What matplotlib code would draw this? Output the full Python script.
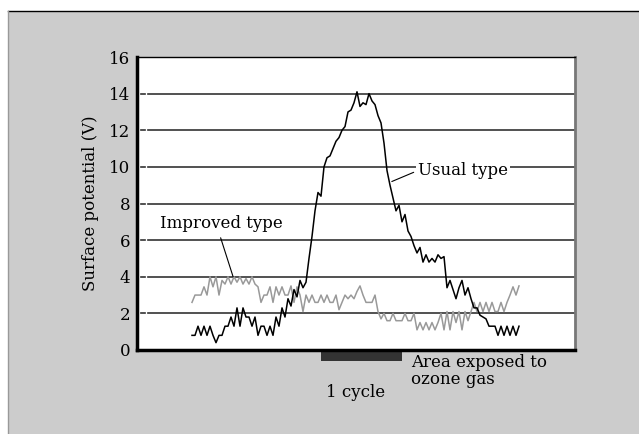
import numpy as np
import matplotlib.pyplot as plt
from matplotlib.patches import Rectangle
from matplotlib.lines import Line2D
import matplotlib.transforms as mtransforms

plt.rcParams['font.family'] = ['DejaVu Serif']

# surface potential (V), one reading per sample
usual = [0.8, 0.8, 1.3, 0.8, 1.3, 0.8, 1.3, 0.8, 0.4, 0.8,
         0.8, 1.3, 1.3, 1.8, 1.3, 2.3, 1.3, 2.3, 1.8, 1.8,
         1.3, 1.8, 0.8, 1.3, 1.3, 0.8, 1.3, 0.8, 1.8, 1.3,
         2.3, 1.8, 2.8, 2.4, 3.3, 2.9, 3.8, 3.4, 3.7, 5.0,
         6.2, 7.6, 8.6, 8.4, 10.0, 10.5, 10.6, 11.0, 11.4, 11.6,
         12.0, 12.2, 13.0, 13.1, 13.5, 14.1, 13.3, 13.5, 13.4, 14.0,
         13.6, 13.4, 12.8, 12.4, 11.3, 9.8, 9.0, 8.3, 7.6, 7.9,
         7.0, 7.4, 6.5, 6.2, 5.7, 5.3, 5.6, 4.8, 5.2, 4.8,
         5.0, 4.8, 5.2, 5.0, 5.1, 3.4, 3.8, 3.3, 2.8, 3.4,
         3.8, 3.0, 3.4, 2.8, 2.3, 2.3, 1.9, 1.8, 1.7, 1.3,
         1.3, 1.3, 0.8, 1.3, 0.8, 1.3, 0.8, 1.3, 0.8, 1.3]

improved = [2.6, 3.0, 3.0, 3.0, 3.45, 3.0, 4.0, 3.45, 4.0, 3.0,
            3.8, 3.6, 4.0, 3.6, 4.0, 3.7, 4.0, 3.6, 3.9, 3.6,
            4.0, 3.6, 3.45, 2.6, 3.0, 3.0, 3.45, 2.6, 3.45, 3.0,
            3.45, 3.0, 3.0, 3.5, 2.6, 3.45, 3.0, 2.1, 3.0, 2.6,
            3.0, 2.6, 2.6, 3.0, 2.6, 3.0, 2.6, 2.6, 3.0, 2.2,
            2.6, 3.0, 2.8, 3.0, 2.8, 3.2, 3.5, 3.0, 2.6, 2.6,
            2.6, 3.0, 2.1, 1.7, 2.0, 1.6, 1.6, 2.0, 1.6, 1.6,
            1.6, 2.0, 1.6, 1.6, 2.0, 1.1, 1.5, 1.1, 1.5, 1.1,
            1.5, 1.1, 1.5, 2.0, 1.1, 2.1, 1.1, 2.1, 1.5, 2.1,
            1.1, 2.1, 1.6, 2.1, 2.6, 2.1, 2.6, 2.1, 2.6, 2.1,
            2.6, 2.1, 2.1, 2.6, 2.1, 2.6, 3.0, 3.45, 3.0, 3.5]

yticks = [0, 2, 4, 6, 8, 10, 12, 14, 16]
cycle_start, cycle_end = 43, 70   # ozone exposure window (samples)

t = np.arange(len(usual))

fig = plt.figure(figsize=(6.39, 4.34), dpi=100)
fig.patch.set_facecolor('white')

# grey panel behind the chart
fig.patches.append(Rectangle((8 / 639, 0), 1 - 8 / 639, 423 / 434,
                             transform=fig.transFigure, facecolor='#cccccc',
                             edgecolor='none', zorder=-5))
fig.lines.append(Line2D([8 / 639, 1], [423 / 434, 423 / 434],
                        transform=fig.transFigure, color='black', lw=1, zorder=-4))
fig.lines.append(Line2D([8 / 639, 8 / 639], [0, 423 / 434],
                        transform=fig.transFigure, color='#999999', lw=1, zorder=-4))

ax = fig.add_axes([137 / 639, 84 / 434, 438 / 639, 293 / 434])
ax.set_facecolor('white')
ax.set_xlim(-55 / 3, -55 / 3 + 146)
ax.set_ylim(0, 16)

for v in yticks[1:-1]:
    ax.axhline(v, xmin=4 / 438, xmax=8 / 438, color='#333333', lw=1.2)
    ax.axhline(v, xmin=11 / 438, xmax=1, color='#333333', lw=1.2)

ax.plot(t, improved, color='#999999', lw=1.1)
ax.plot(t, usual, color='black', lw=1.1)

ax.set_yticks(yticks)
ax.set_xticks([])
ax.tick_params(axis='y', length=0, pad=5, labelsize=12)
ax.set_ylabel('Surface potential (V)', fontsize=12, labelpad=7)

ax.spines['left'].set_linewidth(2.5)
ax.spines['bottom'].set_linewidth(2.5)
ax.spines['top'].set_linewidth(1)
ax.spines['right'].set_linewidth(2)
ax.spines['right'].set_color('#777777')

box = dict(boxstyle='square,pad=0.1', facecolor='white', edgecolor='none')
ax.annotate('Usual type', xy=(66.6, 9.2), xytext=(75.3, 9.8),
            ha='left', va='center', fontsize=12, bbox=box,
            arrowprops=dict(arrowstyle='-', color='black', lw=0.8,
                            shrinkA=2, shrinkB=0, relpos=(0, 0.5)))
ax.annotate('Improved type', xy=(13.7, 4.0), xytext=(-10.7, 6.9),
            ha='left', va='center', fontsize=12, bbox=box,
            arrowprops=dict(arrowstyle='-', color='black', lw=0.8,
                            shrinkA=3, shrinkB=0, relpos=(0.48, 0)))

# exposure bar under the axis
trans = mtransforms.blended_transform_factory(ax.transData, ax.transAxes)
ax.add_patch(Rectangle((cycle_start, -0.036), cycle_end - cycle_start, 0.031,
                       transform=trans, facecolor='#333333', edgecolor='none',
                       clip_on=False))
ax.text((cycle_start + cycle_end) / 2 - 2, -0.145, '1 cycle', transform=trans,
        ha='center', va='center', fontsize=12)
ax.text(cycle_end + 3, -0.012, 'Area exposed to\nozone gas', transform=trans,
        ha='left', va='top', fontsize=12, linespacing=1.0)

fig.savefig('out.png', dpi=100)
